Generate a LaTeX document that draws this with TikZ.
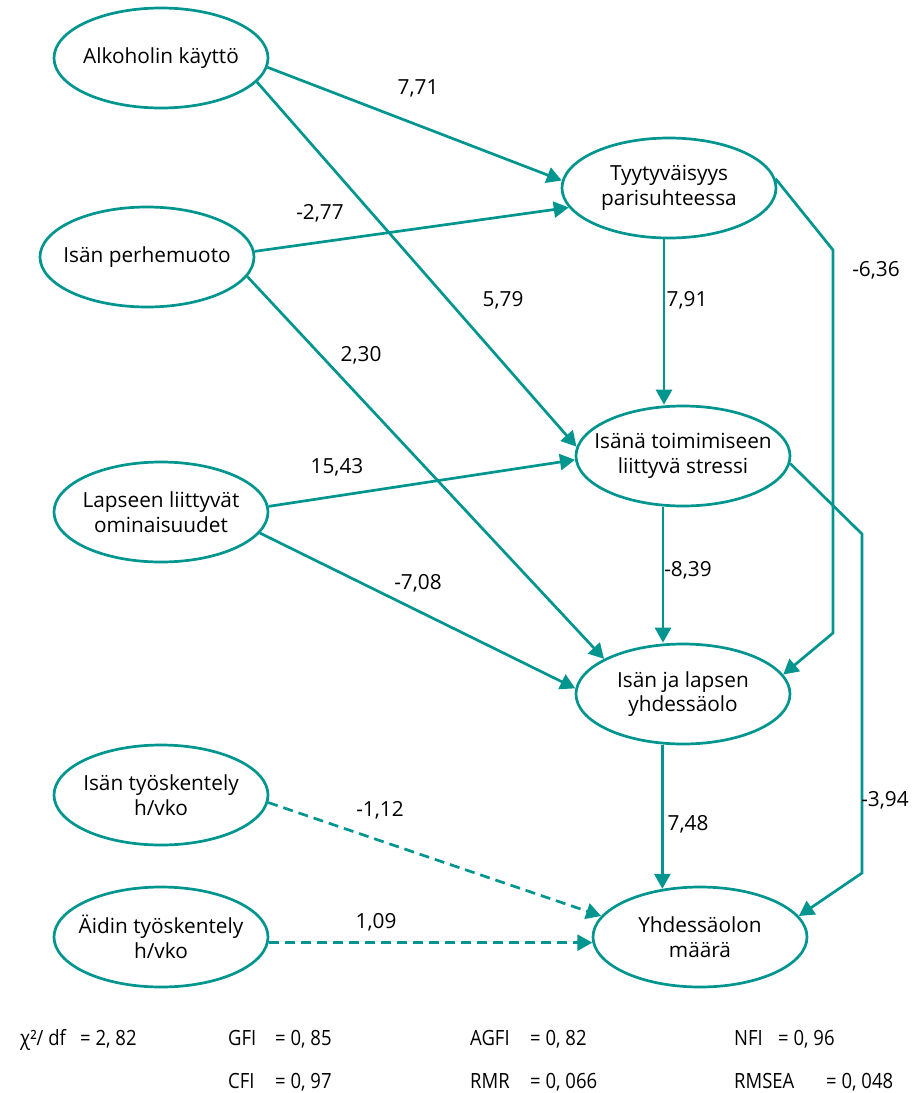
\documentclass[tikz,border=0pt]{standalone}
\usepackage{fontspec}
\setmainfont{Open Sans}
\newfontfamily\condfont[FakeStretch=0.88]{Open Sans}
\usetikzlibrary{arrows.meta,shapes.geometric}
\definecolor{teal1}{HTML}{00958F}
\begin{document}
\begin{tikzpicture}[x=1pt,y=-1pt,
  var/.style={ellipse,draw=teal1,line width=2.7pt,minimum width=214pt,minimum height=100pt,inner xsep=-14pt,inner ysep=0pt,align=center,font=\fontsize{20.8}{24.5}\selectfont},
  conn/.style={draw=teal1,line width=2.7pt,-{Triangle[length=15pt,width=16pt]}},
  dconn/.style={conn,dash pattern=on 10pt off 6pt},
  lbl/.style={font=\fontsize{20.8}{24.5}\selectfont,inner sep=0pt},
  stat/.style={font=\condfont\fontsize{21}{25}\selectfont,anchor=base west,inner sep=0pt}]
\useasboundingbox (0,0) rectangle (915,1093);
% variables
\node[var] (alk) at (161,58) {Alkoholin käyttö};
\node[var] (perh) at (147,257) {Isän perhemuoto};
\node[var] (lap) at (161,512) {Lapseen liittyvät\\ominaisuudet};
\node[var] (isa) at (161,795) {Isän työskentely\\h/vko};
\node[var] (aid) at (161,937) {Äidin työskentely\\h/vko};
\node[var] (tyy) at (669,188) {Tyytyväisyys\\parisuhteessa};
\node[var] (str) at (683,456) {Isänä toimimiseen\\liittyvä stressi};
\node[var] (ijl) at (683,694) {Isän ja lapsen\\yhdessäolo};
\node[var] (yhd) at (700,937) {Yhdessäolon\\määrä};
% bend points
\coordinate (b1) at (833,250);
\coordinate (b2) at (833,633);
\coordinate (b3) at (862,534);
\coordinate (b4) at (862,873);
% connectors
\draw[conn] (alk.-5) -- (tyy.176);
\draw[conn] (alk.-14) -- (str.175);
\draw[conn] (perh.3) -- (tyy.-169);
\draw[conn] (perh.-11) -- (ijl.156);
\draw[conn] (lap.3) -- (str.182);
\draw[conn] (lap.-12) -- (ijl.177);
\draw[conn] ([xshift=-5pt]tyy.south) -- ([xshift=-5pt]tyy.south |- str.north);
\draw[conn] (tyy.5) -- (b1) -- (b2) -- (ijl.11);
\draw[conn] ([xshift=-20pt]str.south) -- ([xshift=-20pt]str.south |- ijl.north);
\draw[conn] (str.-4) -- (b3) -- (b4) -- (yhd.12);
\draw[conn] (yhd.128 |- ijl.south) -- (yhd.128);
\draw[dconn] (isa.-4) -- (yhd.168);
\draw[dconn] (aid.-3) -- (yhd.183);
% labels
\node[lbl] (l1) at (418,88) {7,71};
\node[lbl] (l2) at (320,213) {-2,77};
\node[lbl] (l3) at (503,300) {5,79};
\node[lbl] (l4) at (361,355) {2,30};
\node[lbl] (l5) at (337,467) {15,43};
\node[lbl] (l6) at (418,583) {-7,08};
\node[lbl] (l7) at (687,300) {7,91};
\node[lbl] (l8) at (876,270) {-6,36};
\node[lbl] (l9) at (688,570) {-8,39};
\node[lbl] (l10) at (688,824) {7,48};
\node[lbl] (l11) at (885,800) {-3,94};
\node[lbl] (l12) at (380,810) {-1,12};
\node[lbl] (l13) at (376,922) {1,09};
% fit statistics
\node[stat] (s1) at (20,1045) {χ²/ df};
\node[stat] (v1) at (80,1045) {= 2, 82};
\node[stat] (s2) at (228,1045) {GFI};
\node[stat] (v2) at (275,1045) {= 0, 85};
\node[stat] (s3) at (470,1045) {AGFI};
\node[stat] (v3) at (530,1045) {= 0, 82};
\node[stat] (s4) at (734,1045) {NFI};
\node[stat] (v4) at (778,1045) {= 0, 96};
\node[stat] (s5) at (228,1088) {CFI};
\node[stat] (v5) at (275,1088) {= 0, 97};
\node[stat] (s6) at (470,1088) {RMR};
\node[stat] (v6) at (530,1088) {= 0, 066};
\node[stat] (s7) at (734,1088) {RMSEA};
\node[stat] (v7) at (826,1088) {= 0, 048};
\end{tikzpicture}
\end{document}
